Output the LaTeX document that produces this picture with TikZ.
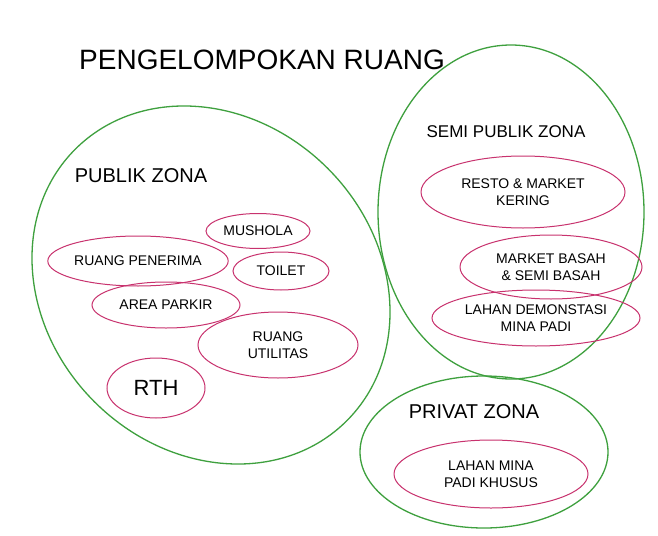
\documentclass[tikz,border=0pt]{standalone}
\usepackage{fontspec}
\setmainfont{Liberation Sans}
\usetikzlibrary{shapes.geometric}

\definecolor{zonegreen}{RGB}{62,160,62}
\definecolor{roompink}{RGB}{200,50,110}

\tikzset{
  zone/.style={shape=ellipse,draw=zonegreen,line width=1.3pt,inner sep=0pt},
  room/.style={shape=ellipse,draw=roompink,line width=1pt,inner sep=0pt,align=center,font=\fontsize{14}{17}\selectfont},
  zonelabel/.style={font=\fontsize{20}{24}\selectfont}
}

\begin{document}
\begin{tikzpicture}[x=1pt,y=-1pt]
  \useasboundingbox[fill=white] (0,0) rectangle (658,535);
  \node[font=\fontsize{28}{32}\selectfont](Title)at(262, 60){PENGELOMPOKAN RUANG};
  % zones
  \node[zone,minimum width=384pt,minimum height=330pt,rotate=-45](Publik)at(211, 285){};
  \node[zone,minimum width=266pt,minimum height=334pt](SemiPublik)at(511, 212){};
  \node[zone,minimum width=248pt,minimum height=152pt](Privat)at(484, 452){};
  \node[zonelabel](PublikLabel)at(141, 176){PUBLIK ZONA};
  \node[zonelabel,font=\fontsize{17}{20}\selectfont](SemiLabel)at(506, 132){SEMI PUBLIK ZONA};
  \node[zonelabel](PrivatLabel)at(474, 412){PRIVAT ZONA};
  % publik rooms
  \node[room,minimum width=104pt,minimum height=35pt](Mushola)at(258, 231){MUSHOLA};
  \node[room,minimum width=180pt,minimum height=50pt](Penerima)at(138, 261){RUANG PENERIMA};
  \node[room,minimum width=96pt,minimum height=38pt](Toilet)at(281, 271){TOILET};
  \node[room,minimum width=148pt,minimum height=46pt](Parkir)at(166, 305){AREA PARKIR};
  \node[room,minimum width=160pt,minimum height=66pt](Utilitas)at(278, 345){RUANG\\UTILITAS};
  \node[room,minimum width=98pt,minimum height=60pt,font=\fontsize{22}{26}\selectfont](RTH)at(156, 388){RTH};
  % semi publik rooms
  \node[room,minimum width=204pt,minimum height=72pt](Resto)at(523, 192){RESTO \& MARKET\\KERING};
  \node[room,minimum width=182pt,minimum height=64pt](Basah)at(551, 267){MARKET BASAH\\\& SEMI BASAH};
  \node[room,minimum width=208pt,minimum height=56pt](Demonstasi)at(536, 318){LAHAN DEMONSTASI\\MINA PADI};
  % privat room
  \node[room,minimum width=194pt,minimum height=68pt](MinaPadi)at(491, 474){LAHAN MINA\\PADI KHUSUS};
\end{tikzpicture}
\end{document}
